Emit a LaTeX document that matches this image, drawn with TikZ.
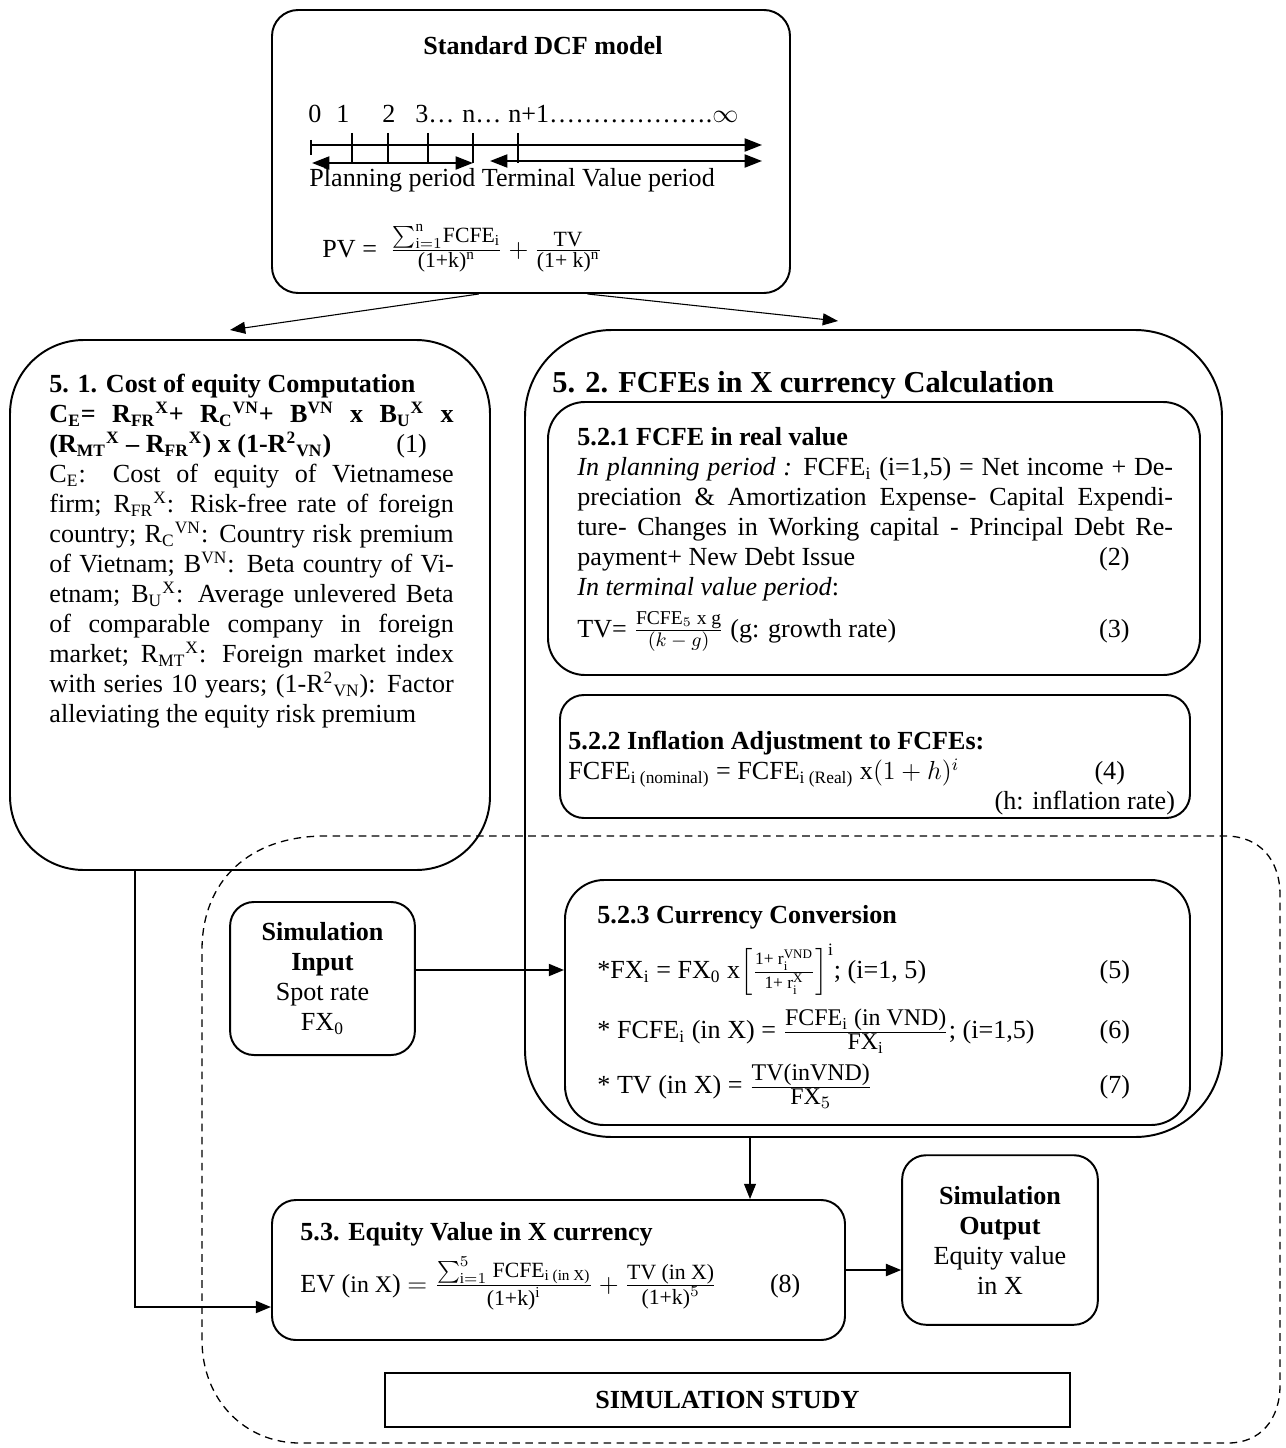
\documentclass[12pt,tikz,border=0pt]{standalone}
\usepackage{amsmath}
\usepackage{fontspec}
\setmainfont{Liberation Serif}
\usetikzlibrary{arrows.meta, fit}

\newcommand{\sbsp}[2]{\textsubscript{#1}\textsuperscript{#2}}
\newcommand{\rnum}[2][0pt]{\hskip 0pt plus 1filll #2\kern#1\mbox{}}
\newcommand{\smfr}[3][10]{\genfrac{}{}{}{1}{\text{\fontsize{#1}{12}\selectfont #2}}{\text{\fontsize{#1}{12}\selectfont #3}}}

\begin{document}
\begin{tikzpicture}[x=0.46pt, y=-0.46pt,
        font=\fontsize{12}{13.8}\selectfont,
        every node/.style={inner sep=0pt},
        box/.style={draw, line width=0.9pt},
        txt/.style={align=justify},
        thinarrow/.style={line width=0.5pt, -{Triangle[length=7pt, width=5.5pt]}},
        thickarrow/.style={line width=1pt, -{Triangle[length=7pt, width=5.5pt]}},
        simarea/.style={line width=0.6pt, dash pattern=on 3.5pt off 2.5pt}]
        \useasboundingbox (0,0) rectangle (1285,1448);

        % Boxes of the model
        \node[box, rounded corners=12pt, fit={(272,10) (790,293)}] (dcf) {};
        \node[box, rounded corners=34pt, fit={(10,340) (490,870)}] (coe) {};
        \node[box, rounded corners=40pt, fit={(525,330) (1222,1137)}] (fcfe) {};
        \node[box, rounded corners=17pt, fit={(548,402) (1200,675)}] (real) {};
        \node[box, rounded corners=11pt, fit={(560,695) (1190,818)}] (infl) {};
        \node[box, rounded corners=18pt, fit={(565,880) (1190,1125)}] (conv) {};
        \node[box, rounded corners=11pt, align=center, minimum width=85pt, minimum height=70.4pt] (simin)
            at (322.5,978.5) {\textbf{Simulation}\\\textbf{Input}\\Spot rate\\FX\textsubscript{0}};
        \node[box, rounded corners=11pt, fit={(272,1200) (845,1340)}] (ev) {};
        \node[box, rounded corners=11pt, align=center, minimum width=90pt, minimum height=78pt] (simout)
            at (1000,1240) {\textbf{Simulation}\\\textbf{Output}\\Equity value\\in X};
        \node[box, minimum width=315pt, minimum height=24.8pt] (study) at (727.5,1400)
            {\textbf{SIMULATION STUDY}};

        % Standard DCF model
        \node[anchor=base] (dcftitle) at (543,55) {\textbf{Standard DCF model}};
        \node[anchor=base west] (t0) at (308,123) {0};
        \node[anchor=base west] (t1) at (336,123) {1};
        \node[anchor=base west] (t2) at (382,123) {2};
        \node[anchor=base west] (t3) at (415,123) {3…};
        \node[anchor=base west] (tn) at (462,123) {n…};
        \node[anchor=base west] (tinf) at (508,123) {n+1……………….$\infty$};
        \draw[line width=0.9pt, -{Triangle[length=8pt, width=6pt]}] (311,145) -- (762,145);
        \foreach \t in {352,388,428,473,518}
            \draw[line width=0.9pt] (\t,133) -- (\t,163);
        \draw[line width=0.9pt] (311,140) -- (311,155);
        \draw[line width=0.9pt, {Triangle[length=8pt, width=6pt]}-{Triangle[length=8pt, width=6pt]}] (312,163) -- (473,163);
        \draw[line width=0.9pt, {Triangle[length=8pt, width=6pt]}-{Triangle[length=8pt, width=6pt]}] (490,161) -- (762,161);
        \node[anchor=base west] (periods) at (309,186) {Planning period Terminal Value period};
        \node[anchor=base west] (pv) at (322,257)
            {PV = \ $\smfr{$\sum_{\mathrm{i}=1}^{\mathrm{n}}$FCFE$_{\mathrm{i}}$}{(1+k)$^{\mathrm{n}}$}
            + \smfr{TV}{(1+ k)$^{\mathrm{n}}$}$};

        % 5.1 Cost of equity
        \node[txt, anchor=north west, text width=186pt] (coetext) at (49,374) {%
            \textbf{5. 1. Cost of equity Computation}\\
            \textbf{C\textsubscript{E}= R\sbsp{FR}{X}+ R\sbsp{C}{VN}+ B\textsuperscript{VN} x B\sbsp{U}{X} x}\linebreak
            \textbf{(R\sbsp{MT}{X} – R\sbsp{FR}{X}) x (1-R\textsuperscript{2}\textsubscript{VN})}\hspace{30pt}(1)\\
            C\textsubscript{E}: Cost of equity of Vietnamese\linebreak
            firm; R\sbsp{FR}{X}: Risk-free rate of foreign\linebreak
            country; R\sbsp{C}{VN}: Country risk premium\linebreak
            of Vietnam; B\textsuperscript{VN}: Beta country of Vi-\linebreak
            etnam; B\sbsp{U}{X}: Average unlevered Beta\linebreak
            of comparable company in foreign\linebreak
            market; R\sbsp{MT}{X}: Foreign market index\linebreak
            with series 10 years; (1-R\textsuperscript{2}\textsubscript{VN}): Factor\linebreak
            alleviating the equity risk premium};

        % 5.2 FCFEs
        \node[anchor=base west] (fcfetitle) at (552,392)
            {\fontsize{14}{16}\selectfont\textbf{5. 2. FCFEs in X currency Calculation}};
        \node[txt, anchor=north west, text width=274pt] (realtext) at (577,427) {%
            \textbf{5.2.1 FCFE in real value}\\
            \textit{In planning period :} FCFE\textsubscript{i} (i=1,5) = Net income + De-\linebreak
            preciation \& Amortization Expense- Capital Expendi-\linebreak
            ture- Changes in Working capital - Principal Debt Re-\linebreak
            payment+ New Debt Issue\rnum[20pt]{(2)}\\
            \textit{In terminal value period}:};
        \node[txt, anchor=base west, text width=274pt] (tvline) at (577,637)
            {TV= $\smfr[9]{FCFE$_5$ x g}{$(k-g)$}$ (g: growth rate)\rnum[20pt]{(3)}};
        \node[txt, anchor=north west, text width=279pt] (infltext) at (568,731) {%
            \textbf{5.2.2 Inflation Adjustment to FCFEs:}\\
            FCFE\textsubscript{i (nominal)} = FCFE\textsubscript{i (Real)} x$(1+h)^i$\rnum[23pt]{(4)}\\
            \mbox{}\rnum{(h: inflation rate)}};
        \node[anchor=base west] (convtitle) at (597,923) {\textbf{5.2.3 Currency Conversion}};
        \node[txt, anchor=west, text width=245pt] (fx) at (597,970)
            {*FX\textsubscript{i} = FX\textsubscript{0} x$\left[\smfr[8]{1+ r$_{\mathrm{i}}^{\text{VND}}$}{1+ r$_{\mathrm{i}}^{\text{X}}$}\right]^{\mathrm{i}}$; (i=1, 5)\rnum{(5)}};
        \node[txt, anchor=west, text width=245pt] (fcfex) at (597,1031)
            {* FCFE\textsubscript{i} (in X) = $\smfr[11]{FCFE$_{\mathrm{i}}$ (in VND)}{FX$_{\mathrm{i}}$}$; (i=1,5)\rnum{(6)}};
        \node[txt, anchor=west, text width=245pt] (tvx) at (597,1086)
            {* TV (in X) = $\smfr[11]{TV(inVND)}{FX$_5$}$\rnum{(7)}};

        % 5.3 Equity value
        \node[anchor=base west] (evtitle) at (300,1240) {\textbf{5.3. Equity Value in X currency}};
        \node[txt, anchor=base west, text width=230pt] (evformula) at (300,1292)
            {EV ({\small in X}) $= \smfr{$\sum_{\mathrm{i}=1}^{5}$ FCFE$_{\text{i (in X)}}$}{(1+k)$^{\mathrm{i}}$}
            + \smfr{TV (in X)}{(1+k)$^{5}$}$\rnum{(8)}};

        % Connectors
        \coordinate (coeTip) at (230,330);
        \coordinate (fcfeTip) at (838,321);
        \draw[thinarrow] ([xshift=-24pt]dcf.south) -- (coeTip);
        \draw[thinarrow] ([xshift=26pt]dcf.south) -- (fcfeTip);
        \coordinate (drop) at (750,0);
        \draw[thinarrow] (fcfe.south -| drop) -- (ev.north -| drop);
        \draw[thickarrow] (simin.east |- fx) -- (conv.west |- fx);
        \coordinate (bend) at (135,1307);
        \draw[thickarrow] (coe.south -| bend) -- (bend) -- (bend -| ev.west);
        \draw[thickarrow] (ev.east) -- (ev.east -| simout.west);

        % Simulation study area
        \draw[simarea] (202,1340) -- (202,950) .. controls (202,880) and (250,836) .. (325,836)
            -- (1225,836) .. controls (1260,836) and (1280,860) .. (1280,895)
            -- (1280,1385) .. controls (1280,1420) and (1260,1443) .. (1228,1443)
            -- (300,1443) .. controls (245,1443) and (202,1400) .. (202,1340);
\end{tikzpicture}
\end{document}
